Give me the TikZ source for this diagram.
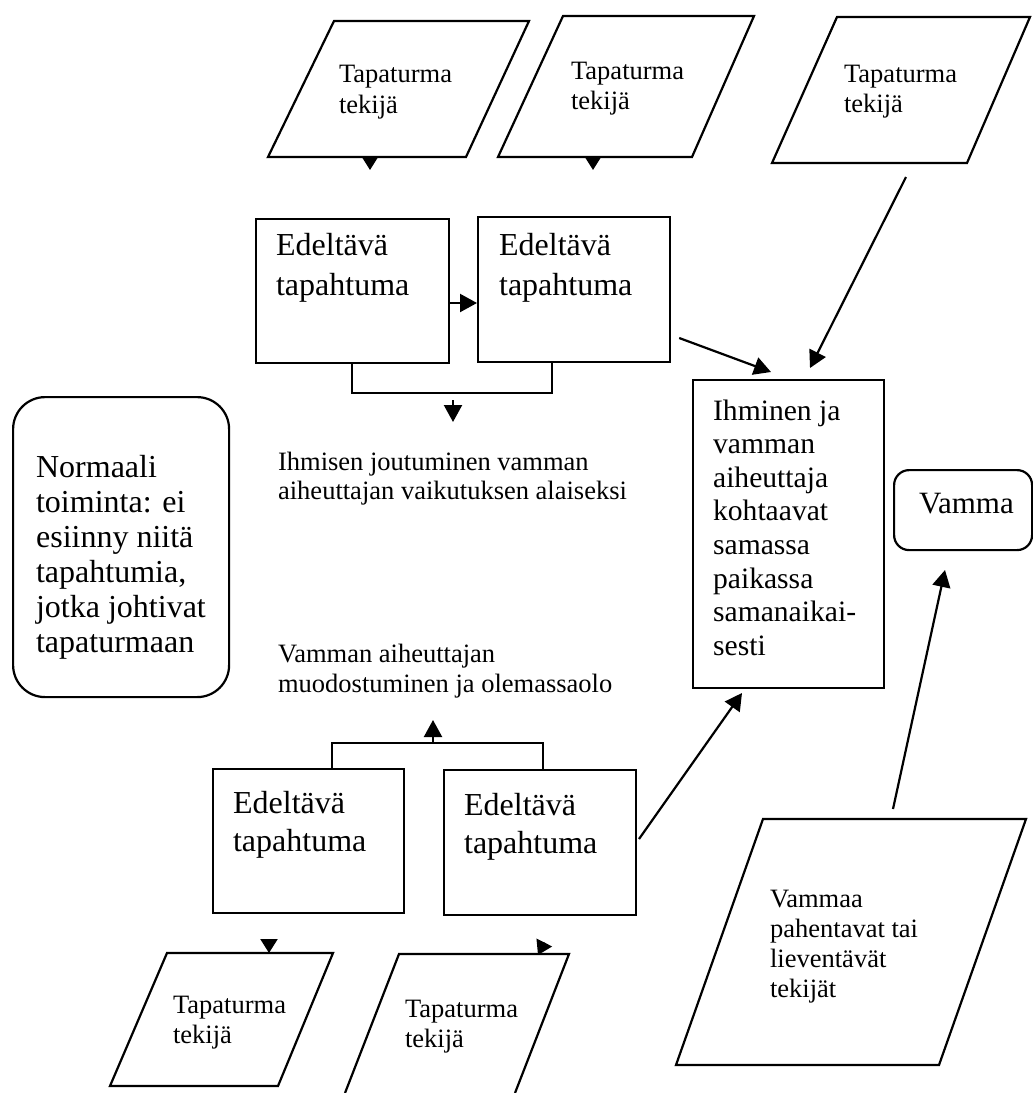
\documentclass[tikz,border=0pt]{standalone}
\usepackage{fontspec}
\setmainfont{Liberation Serif}
\usetikzlibrary{arrows.meta}
% left-aligned block of lines whose baseline is the first line's baseline
\newcommand\txtlines[2]{\vtop{\baselineskip=#1\relax\lineskiplimit=-20pt\halign{##\hfil\cr#2\crcr}}}
\begin{document}
\begin{tikzpicture}[x=0.5pt,y=-0.5pt,line width=1.1pt,
  box/.style={draw,rectangle,anchor=north west,inner sep=0pt},
  txt/.style={anchor=base west,inner sep=0pt},
  small/.style={font=\fontsize{13.25pt}{15pt}\selectfont},
  big/.style={font=\fontsize{16pt}{19pt}\selectfont},
  mid/.style={font=\fontsize{14.8pt}{17pt}\selectfont},
  arr/.style={-{Triangle[length=8.5pt,width=9pt]}},
  tip/.style={-{Triangle[length=7pt,width=8.5pt]}}]
\useasboundingbox (0,0) rectangle (1033,1093);

% event boxes
\node[box,minimum width=96.5pt,minimum height=72pt] (e1) at (255,218) {};
\node[box,minimum width=96pt,minimum height=72.5pt] (e2) at (477,216) {};
\node[box,minimum width=95.5pt,minimum height=72pt] (e3) at (212,768) {};
\node[box,minimum width=96pt,minimum height=72.5pt] (e4) at (443,769) {};
\node[box,minimum width=95.5pt,minimum height=154pt] (meet) at (692,379) {};
\node[box,rounded corners=7.5pt,minimum width=69pt,minimum height=40pt] (vamma) at (893,469) {};
\node[box,rounded corners=16pt,minimum width=108pt,minimum height=150pt] (normal) at (12,396) {};

\node[txt,big] (e1t) at (275,255) {\txtlines{20pt}{Edeltävä\cr tapahtuma}};
\node[txt,big] (e2t) at (498,255) {\txtlines{20pt}{Edeltävä\cr tapahtuma}};
\node[txt,big] (e3t) at (232,813) {\txtlines{19pt}{Edeltävä\cr tapahtuma}};
\node[txt,big] (e4t) at (463,815) {\txtlines{19pt}{Edeltävä\cr tapahtuma}};
\node[txt,mid] (meett) at (712,420) {\txtlines{16.8pt}{Ihminen ja\cr vamman\cr aiheuttaja\cr kohtaavat\cr samassa\cr paikassa\cr samanaikai-\cr sesti}};
\node[txt,font=\fontsize{15.5pt}{18pt}\selectfont] (vammat) at (918,513) {Vamma};
\node[txt,big] (normalt) at (35,477) {\txtlines{17.5pt}{Normaali\cr toiminta: ei\cr esiinny niitä\cr tapahtumia,\cr jotka johtivat\cr tapaturmaan}};

% free-standing labels
\node[txt,small] (ihm) at (277,470) {\txtlines{14.5pt}{Ihmisen joutuminen vamman\cr aiheuttajan vaikutuksen alaiseksi}};
\node[txt,small] (muod) at (277,662) {\txtlines{15pt}{Vamman aiheuttajan\cr muodostuminen ja olemassaolo}};

% factor parallelograms
\draw (334,21) -- (529,21) -- (466,157) -- (268,157) -- cycle;
\draw (563,16) -- (754,16) -- (692,157) -- (498,157) -- cycle;
\draw (837,17) -- (1030,17) -- (967,163) -- (772,163) -- cycle;
\draw (167,953) -- (333,953) -- (278,1086) -- (110,1086) -- cycle;
\draw (345,1093) -- (399,954) -- (569,954) -- (515,1093);
\draw (763,819) -- (1026,819) -- (939,1065) -- (676,1065) -- cycle;

\node[txt,small] (p1t) at (338,82) {\txtlines{15.5pt}{Tapaturma\cr tekijä}};
\node[txt,small] (p2t) at (570,79) {\txtlines{15pt}{Tapaturma\cr tekijä}};
\node[txt,small] (p3t) at (843,82) {\txtlines{15pt}{Tapaturma\cr tekijä}};
\node[txt,small] (p4t) at (172,1013) {\txtlines{15pt}{Tapaturma\cr tekijä}};
\node[txt,small] (p5t) at (404,1017) {\txtlines{15pt}{Tapaturma\cr tekijä}};
\node[txt,small] (p6t) at (769,907) {\txtlines{15pt}{Vammaa\cr pahentavat tai\cr lieventävät\cr tekijät}};

% connector end points
\coordinate (p1b) at (370,156);
\coordinate (p2b) at (593,156);
\coordinate (p3b) at (906,177);
\coordinate (p4top) at (269,953);
\coordinate (p5top) at (538,955);
\coordinate (p6top) at (893,809);
\coordinate (e4out) at (639,839);
\coordinate (meetA) at (771,372);
\coordinate (meetB) at (810,368);
\coordinate (meetC) at (742,693);
\coordinate (vammaIn) at (945,570);

% connectors
\draw[tip] (p1b) -- ++(0,14);
\draw[tip] (p2b) -- ++(0,14);
\draw[arr] (p3b) -- (meetB);
\draw[arr] (e1.east |- 0,303) -- (e2.west |- 0,303);
\draw[arr] ([xshift=4pt]e2.east |- 0,338) -- (meetA);
\draw (352,0 |- e1.south) -- (352,393) -- (552,393) -- (552,0 |- e2.south);
\draw[arr] (453,400) -- (453,422);
\draw (332,0 |- e3.north) -- (332,743) -- (543,743) -- (543,0 |- e4.north);
\draw[arr] (433,743) -- (433,720);
\draw[arr] (e4out) -- (meetC);
\draw[arr] (p6top) -- (vammaIn);
\draw[tip] (269,939) -- (p4top);
\draw[tip] (544.3,942.5) -- (p5top);
\end{tikzpicture}
\end{document}
